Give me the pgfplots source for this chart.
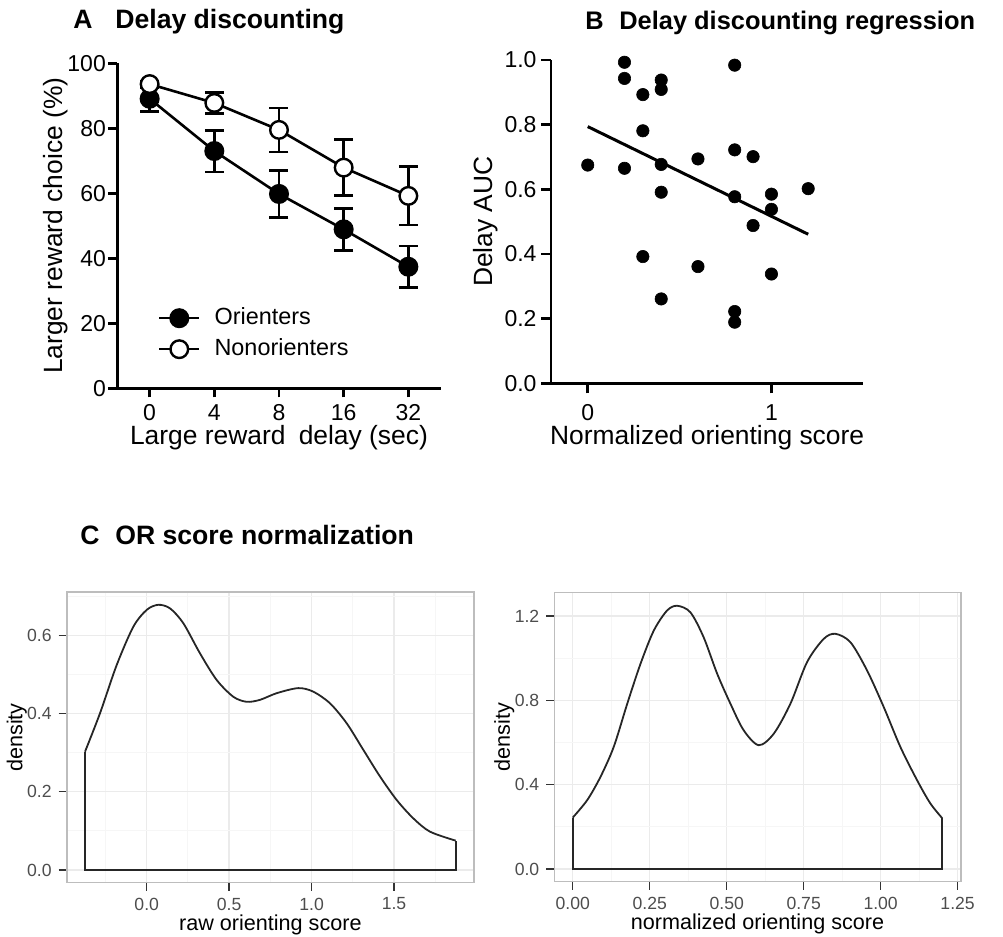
\documentclass[border=0pt]{standalone}
\usepackage{fontspec}
\setmainfont{Liberation Sans}
\usepackage{pgfplots}
\pgfplotsset{compat=1.18}

\definecolor{ggborder}{HTML}{BDBDBD}
\definecolor{ggmajor}{HTML}{EBEBEB}
\definecolor{ggminor}{HTML}{F6F6F6}
\definecolor{ggtick}{HTML}{333333}
\definecolor{ggtext}{HTML}{4D4D4D}

\pgfplotsset{
  prism/.style={
    scale only axis, clip=false,
    axis lines=left, axis line style={-, line width=1.4pt},
    tick align=outside, major tick length=4.5pt,
    tick style={line width=1.4pt, black},
    /pgf/number format/assume math mode=true,
    ticklabel style={font=\fontsize{11.5}{13}\selectfont},
    label style={font=\fontsize{13.2}{15}\selectfont},
  },
  ggpanel/.style={
    scale only axis,
    axis line style={ggborder, line width=0.8pt},
    grid=both,
    major grid style={ggmajor, line width=0.7pt},
    minor grid style={ggminor, line width=0.5pt},
    tick align=outside, major tick length=4pt, minor tick length=0pt,
    tick style={ggtick, line width=0.7pt},
    xtick pos=left, ytick pos=left,
    /pgf/number format/assume math mode=true,
    ticklabel style={font=\fontsize{8.8}{10}\selectfont, text=ggtext},
    label style={font=\fontsize{10.8}{12}\selectfont},
    xlabel style={at={(axis description cs:0.5,0)}, anchor=base, yshift=-23.9pt},
    ylabel style={at={(axis description cs:0,0.5)}, anchor=center, yshift=25pt},
  },
  ggcurve/.style={black!85, line width=0.9pt},
}

\pgfplotstableread{
x y e
0 89.1 4.0
1 73.0 6.4
2 59.8 7.2
3 48.9 6.5
4 37.4 6.4
}\orienters

\pgfplotstableread{
x y e
0 93.6 1.0
1 87.8 3.3
2 79.5 6.8
3 67.9 8.6
4 59.2 9.0
}\nonorienters

\pgfplotstableread{
x y
0.0 0.675
0.2 0.993
0.2 0.943
0.2 0.665
0.3 0.893
0.3 0.781
0.3 0.392
0.4 0.938
0.4 0.909
0.4 0.677
0.4 0.591
0.4 0.261
0.6 0.694
0.6 0.361
0.8 0.984
0.8 0.722
0.8 0.577
0.8 0.222
0.8 0.189
0.9 0.701
0.9 0.488
1.0 0.585
1.0 0.538
1.0 0.338
1.2 0.602
}\aucdata

\begin{document}
\begin{tikzpicture}
\path[use as bounding box] (0,0) rectangle (501.5pt,468.5pt);

% ---------------- Panel A ----------------
\begin{axis}[prism,
  at={(58.65pt,274.35pt)}, anchor=south west,
  width=161.7pt, height=162.5pt,
  xmin=-0.5, xmax=4.5, ymin=0, ymax=100,
  xtick={0,1,2,3,4}, xticklabels={0,4,8,16,32},
  ytick={0,20,40,60,80,100},
  yticklabel style={xshift=2.3pt},
  xlabel={Large reward\hspace{0.5em}delay (sec)},
  ylabel={Larger reward choice (\%)},
  xlabel style={at={(axis description cs:0.5,0)}, anchor=base, yshift=-28.35pt},
  ylabel style={at={(axis description cs:0,0.5)}, anchor=center, yshift=31pt},
  legend style={draw=none, fill=none, inner sep=0pt,
    at={(axis cs:0.123,16.8)}, anchor=west,
    font=\fontsize{11.7}{13}\selectfont,
    nodes={text height=8.5pt, text depth=2.5pt, inner ysep=2.25pt},
    row sep=0pt,
    /tikz/every odd column/.append style={column sep=5pt}},
  legend cell align=left,
  legend image code/.code={\draw[mark repeat=2,mark phase=2,#1] plot coordinates {(0pt,0pt) (10pt,0pt) (20pt,0pt)};},
]
\addplot[black, line width=1.3pt, mark=*, mark size=4.4pt,
  mark options={fill=black, line width=1.2pt},
  error bars/.cd, y dir=both, y explicit,
  error bar style={line width=1.3pt},
  error mark options={rotate=90, mark size=4.75pt, line width=1.3pt}]
  table[x=x, y=y, y error=e] {\orienters};
\addlegendentry{Orienters}
\addplot[black, line width=1.3pt, mark=*, mark size=4.4pt,
  mark options={fill=white, line width=1.2pt},
  error bars/.cd, y dir=both, y explicit,
  error bar style={line width=1.3pt},
  error mark options={rotate=90, mark size=4.75pt, line width=1.3pt}]
  table[x=x, y=y, y error=e] {\nonorienters};
\addlegendentry{Nonorienters}
\end{axis}

% ---------------- Panel B ----------------
\begin{axis}[prism,
  at={(275.5pt,276.85pt)}, anchor=south west,
  width=156.15pt, height=161.65pt,
  xmin=-0.2, xmax=1.5, ymin=0, ymax=1,
  major tick length=5pt,
  xtick={0,1}, ytick={0,0.2,0.4,0.6,0.8,1.0},
  yticklabels={0.0,0.2,0.4,0.6,0.8,1.0},
  yticklabel style={xshift=1.3pt},
  xticklabel style={yshift=-2pt},
  xlabel={Normalized orienting score},
  ylabel={Delay AUC},
  xlabel style={at={(axis description cs:0.5,0)}, anchor=base, yshift=-30.5pt},
  ylabel style={at={(axis description cs:0,0.5)}, anchor=center, yshift=32.5pt},
]
\addplot[only marks, mark=*, mark size=3.1pt, mark options={fill=black, draw=black, line width=0.3pt}]
  table[x=x, y=y] {\aucdata};
\addplot[black, line width=1.5pt] coordinates {(0,0.794) (1.2,0.461)};
\end{axis}

% ---------------- Panel C, raw score ----------------
\begin{axis}[ggpanel,
  at={(33.35pt,27.15pt)}, anchor=south west,
  width=203.65pt, height=145.2pt,
  xmin=-0.4852, xmax=1.985, ymin=-0.0325, ymax=0.710,
  xtick={0,0.5,1,1.5}, xticklabels={0.0,0.5,1.0,1.5},
  minor xtick={-0.25,0.25,0.75,1.25,1.75},
  ytick={0,0.2,0.4,0.6}, yticklabels={0.0,0.2,0.4,0.6},
  minor ytick={0.1,0.3,0.5,0.7},
  xlabel={raw orienting score}, ylabel={density},
]
\addplot[ggcurve, smooth] coordinates {
  (-0.374,0.3025) (-0.283,0.401) (-0.182,0.524) (-0.081,0.622) (0.0,0.665)
  (0.070,0.678) (0.141,0.669) (0.222,0.631) (0.323,0.554) (0.424,0.486)
  (0.525,0.443) (0.606,0.430) (0.687,0.435) (0.788,0.452) (0.919,0.465)
  (1.010,0.456) (1.112,0.426) (1.213,0.375) (1.314,0.307) (1.415,0.239)
  (1.516,0.179) (1.617,0.132) (1.718,0.098) (1.874,0.075)};
\addplot[ggcurve, sharp plot] coordinates {
  (-0.374,0.3025) (-0.374,0) (1.874,0) (1.874,0.075)};
\end{axis}

% ---------------- Panel C, normalized score ----------------
\begin{axis}[ggpanel,
  at={(277.15pt,27.65pt)}, anchor=south west,
  width=203.2pt, height=144.5pt,
  xmin=-0.06, xmax=1.26, ymin=-0.06, ymax=1.31,
  xtick={0,0.25,0.5,0.75,1,1.25},
  xticklabels={0.00,0.25,0.50,0.75,1.00,1.25},
  minor xtick={0.125,0.375,0.625,0.875,1.125},
  ytick={0,0.4,0.8,1.2}, yticklabels={0.0,0.4,0.8,1.2},
  minor ytick={0.2,0.6,1.0},
  xlabel={normalized orienting score}, ylabel={density},
]
\addplot[ggcurve, smooth] coordinates {
  (0,0.244) (0.047,0.327) (0.090,0.437) (0.133,0.579) (0.177,0.784)
  (0.220,0.973) (0.263,1.130) (0.306,1.225) (0.339,1.248) (0.382,1.217)
  (0.425,1.099) (0.469,0.926) (0.512,0.784) (0.555,0.658) (0.604,0.587)
  (0.653,0.642) (0.707,0.784) (0.761,0.981) (0.815,1.091) (0.853,1.115)
  (0.902,1.075) (0.956,0.941) (1.010,0.768) (1.064,0.579) (1.118,0.422)
  (1.161,0.312) (1.2,0.241)};
\addplot[ggcurve, sharp plot] coordinates {
  (0,0.244) (0,0) (1.2,0) (1.2,0.241)};
\end{axis}

% ---------------- Panel titles ----------------
\begin{scope}[every node/.style={inner sep=0pt, anchor=base west, font=\fontsize{13.3}{15}\selectfont\bfseries}]
\node at (36.5pt,454pt) {A};
\node at (57.5pt,454pt) {Delay discounting};
\node at (40pt,196pt) {C};
\node at (57.5pt,196pt) {OR score normalization};
\end{scope}
\begin{scope}[every node/.style={inner sep=0pt, anchor=base west, font=\fontsize{12.7}{15}\selectfont\bfseries}]
\node at (292.5pt,453.5pt) {B};
\node at (309.5pt,453.5pt) {Delay discounting regression};
\end{scope}
\end{tikzpicture}
\end{document}
